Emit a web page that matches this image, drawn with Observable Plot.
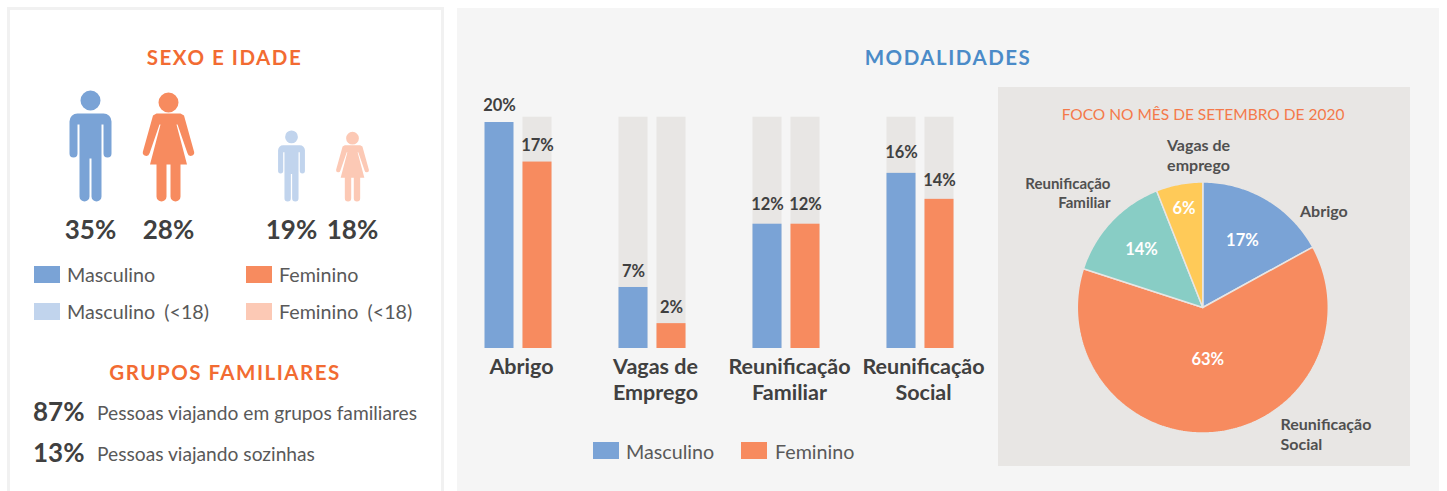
<!DOCTYPE html>
<html lang="pt">
<head>
<meta charset="utf-8">
<title>Sexo e idade, modalidades</title>
<script src="https://cdn.jsdelivr.net/npm/d3@7"></script>
<script src="https://cdn.jsdelivr.net/npm/@observablehq/plot@0.6"></script>
<style>
  html, body { margin: 0; padding: 0; background: #fff; }
  #page { position: relative; width: 1447px; height: 491px; overflow: hidden; font-family: Lato, sans-serif; }
  .panel, .plot, .t, .sw { position: absolute; }
  .t { transform: translateY(-50%); white-space: nowrap; line-height: 1.2; }
  .c { transform: translate(-50%, -50%); }
  .h { font-size: 20.5px; font-weight: 700; letter-spacing: 1.5px; color: #f26b32; }
  .lg { font-size: 19.7px; color: #595959; }
  .pct { font-size: 26px; font-weight: 700; color: #404040; }
  .fam { font-size: 19.2px; color: #595959; }
  svg { overflow: visible; }
</style>
</head>
<body>
<div id="page"></div>
<script>
// ---- data ----
const pctAdultos = [35, 28];
const pctCriancas = [19, 18];
const legendaSexo = ["Masculino", "Feminino", "Masculino (<18)", "Feminino (<18)"];
const coresSexo = ["#7aa3d6", "#f78b5f", "#c1d4ed", "#fcc9b5"];

const grupos = ["Pessoas viajando em grupos familiares", "Pessoas viajando sozinhas"];
const pctGrupos = [87, 13];

const modalidades = ["Abrigo", "Vagas de\nEmprego", "Reunificação\nFamiliar", "Reunificação\nSocial"];
const sexos = ["Masculino", "Feminino"];
// bar heights as drawn, in the percent units of the chart
const alturaMasculino = [20, 5.4, 11, 15.5];
const alturaFeminino = [16.5, 2.2, 11, 13.2];
// printed labels
const rotuloMasculino = [20, 7, 12, 16];
const rotuloFeminino = [17, 2, 12, 14];
const fundoBarra = 20.47;

const focoCategorias = ["Abrigo", "Reunificação Social", "Reunificação Familiar", "Vagas de emprego"];
const focoValores = [17, 63, 14, 6];
const focoCores = ["#7aa3d6", "#f78b5f", "#88cdc5", "#ffca58"];

// ---- layout helpers ----
const page = document.getElementById("page");
function box(css) { const d = document.createElement("div"); d.className = "panel"; d.style.cssText = css; page.append(d); return d; }
function txt(s, x, y, cls, extra) {
  const d = document.createElement("div");
  d.className = "t " + cls; d.textContent = s;
  d.style.left = x + "px"; d.style.top = y + "px";
  if (extra) d.style.cssText += extra;
  page.append(d);
}
function swatch(x, y, color) {
  const d = document.createElement("div");
  d.className = "sw";
  d.style.cssText = `left:${x}px;top:${y}px;width:26px;height:17px;background:${color}`;
  page.append(d);
}
function place(chart, x, y) {
  const d = document.createElement("div");
  d.className = "plot";
  d.style.left = x + "px"; d.style.top = y + "px";
  d.append(chart); page.append(d);
}

box("left:7px;top:7px;width:431px;height:490px;border:3px solid #f1f1f1;background:#fff");
box("left:457px;top:8px;width:982px;height:483px;background:#f5f5f5");
box("left:998px;top:87px;width:412px;height:379px;background:#e8e6e4");

// ---- pictogram symbols (drawn by Plot.dot, unit = half the figure's height) ----
const H = 55.5;
function tracer(ctx, size, fn) {
  const k = Math.sqrt(size / Math.PI) / H;
  const X = v => v * k, Y = v => (v - 145.5) * k;
  fn({
    m: (x, y) => ctx.moveTo(X(x), Y(y)),
    l: (x, y) => ctx.lineTo(X(x), Y(y)),
    a: (x, y, r, a0, a1, ccw) => ctx.arc(X(x), Y(y), r * k, a0, a1, ccw),
    c: () => ctx.closePath()
  });
}
const homem = { draw(ctx, size) { tracer(ctx, size, p => {
  p.m(10, 100); p.a(0, 100, 10, 0, 2 * Math.PI); p.c();
  p.m(-13, 113); p.l(13, 113);
  p.a(13, 121, 8, -Math.PI / 2, 0);
  p.l(21, 153); p.a(17, 153, 4, 0, Math.PI);
  p.l(13, 124); p.l(11, 124); p.l(11, 196);
  p.a(6, 196, 5, 0, Math.PI);
  p.l(1, 158); p.l(-1, 158); p.l(-1, 196);
  p.a(-6, 196, 5, 0, Math.PI);
  p.l(-11, 124); p.l(-13, 124); p.l(-13, 153);
  p.a(-17, 153, 4, 0, Math.PI);
  p.l(-21, 121); p.a(-13, 121, 8, Math.PI, 1.5 * Math.PI); p.c();
}); } };
const mulher = { draw(ctx, size) { tracer(ctx, size, p => {
  p.m(10, 102); p.a(0, 102, 10, 0, 2 * Math.PI); p.c();
  p.m(-12, 113); p.l(12, 113); p.l(15.5, 115);
  p.l(25.5, 151); p.a(22.3, 152, 3.4, -0.2, 2.9);
  p.l(9, 124); p.l(8, 124); p.l(18.5, 164); p.l(12, 164); p.l(12, 196);
  p.a(7, 196, 5, 0, Math.PI);
  p.l(2, 164); p.l(-2, 164); p.l(-2, 196);
  p.a(-7, 196, 5, 0, Math.PI);
  p.l(-12, 164); p.l(-18.5, 164); p.l(-8, 124); p.l(-9, 124);
  p.l(-19, 153); p.a(-22.3, 152, 3.4, 0.25, 3.35);
  p.l(-15.5, 115); p.c();
}); } };

function figuras(valores, classes, r, dy, range, width) {
  const dados = sexos.map((s, i) => ({ sexo: s, classe: classes[i], pct: valores[i] }));
  return Plot.plot({
    width, height: 190, margin: 0, axis: null,
    style: { background: "transparent", overflow: "visible" },
    x: { type: "point", domain: sexos, range, padding: 0 },
    color: { domain: legendaSexo, range: coresSexo },
    marks: [
      Plot.dot(dados.filter(d => d.sexo === "Masculino"), { x: "sexo", frameAnchor: "top", dy, r, symbol: homem, fill: "classe" }),
      Plot.dot(dados.filter(d => d.sexo === "Feminino"), { x: "sexo", frameAnchor: "top", dy, r, symbol: mulher, fill: "classe" }),
      Plot.text(dados, { x: "sexo", frameAnchor: "bottom", dy: -20, lineAnchor: "middle", text: d => d.pct + "%",
        fontSize: 26, fontWeight: 700, fontFamily: "Lato", fill: "#404040" })
    ]
  });
}
place(figuras(pctAdultos, legendaSexo.slice(0, 2), 55.5, 85.5, [60, 138], 190), 30, 60);
place(figuras(pctCriancas, legendaSexo.slice(2), 35.5, 105.5, [51, 112], 160), 240, 60);

// ---- left panel text ----
txt("SEXO E IDADE", 224.5, 57, "h c");
[[34, 266], [246, 266], [34, 303], [246, 303]].forEach(([x, y], i) => {
  swatch(x, y, coresSexo[i]);
  txt(legendaSexo[i], x + 33, y + 9, "lg", "word-spacing:4px;");
});
txt("GRUPOS FAMILIARES", 225, 372, "h c");
grupos.forEach((g, i) => {
  const y = [412, 453][i];
  txt(pctGrupos[i] + "%", 33, y, "pct");
  txt(g, 97, y + 1, "fam");
});

// ---- grouped bars ----
txt("MODALIDADES", 948, 57, "h c", "color:#4b8bc8;");
const barras = modalidades.flatMap((m, i) => [
  { modalidade: m, sexo: "Masculino", altura: alturaMasculino[i], rotulo: rotuloMasculino[i] },
  { modalidade: m, sexo: "Feminino", altura: alturaFeminino[i], rotulo: rotuloFeminino[i] }
]);
const folgaPx = [17, 16, 16, 16, 19, 19, 21, 19]; // label lift above bar, px
const unidadePx = 11.3;
barras.forEach((b, i) => { b.folga = folgaPx[i]; });

place(Plot.plot({
  width: 530, height: 330,
  marginLeft: 13.5, marginRight: 45.4, marginTop: 26.7, marginBottom: 72,
  style: { background: "transparent", overflow: "visible" },
  fx: { domain: modalidades, paddingInner: 0.494, paddingOuter: 0, label: null },
  x: { domain: sexos, paddingInner: 0.25, paddingOuter: 0, axis: null },
  y: { domain: [0, fundoBarra], axis: null },
  color: { domain: sexos, range: coresSexo.slice(0, 2) },
  marks: [
    Plot.barY(barras.filter(b => !(b.modalidade === "Abrigo" && b.sexo === "Masculino")),
      { fx: "modalidade", x: "sexo", y: () => fundoBarra, fill: "#e8e6e4" }),
    Plot.barY(barras, { fx: "modalidade", x: "sexo", y: "altura", fill: "sexo" }),
    Plot.text(barras, { fx: "modalidade", x: "sexo", y: b => b.altura + b.folga / unidadePx, text: b => b.rotulo + "%",
      lineAnchor: "middle", fontSize: 16.5, fontWeight: 700, fontFamily: "Lato", fill: "#404040" }),
    Plot.axisFx({ anchor: "bottom", tickSize: 0, tickPadding: 7, dx: 3, label: null, fontSize: 21.5, fontWeight: 700,
      fontFamily: "Lato", fill: "#404040", lineHeight: 1.2, tickFormat: d => d })
  ]
}), 470, 90);

// legend below bars
swatch(593, 442, coresSexo[0]); txt("Masculino", 626, 452, "lg");
swatch(741, 442, coresSexo[1]); txt("Feminino", 775, 452, "lg");

// ---- pie ----
txt("FOCO NO MÊS DE SETEMBRO DE 2020", 1203, 114, "t c", "font-size:15.5px;color:#f4794a;");
const fatias = d3.pie().sort(null).value(d => d.valor)(focoCategorias.map((c, i) => ({ categoria: c, valor: focoValores[i] })));
const vertices = fatias.flatMap(f => {
  const n = Math.ceil((f.endAngle - f.startAngle) * 180 / Math.PI);
  const pts = d3.range(n + 1).map(i => f.startAngle + (f.endAngle - f.startAngle) * i / n);
  return [{ c: f.data.categoria, x: 0, y: 0 },
    ...pts.map(a => ({ c: f.data.categoria, x: Math.sin(a), y: Math.cos(a) })),
    { c: f.data.categoria, x: 0, y: 0 }];
});
const raioRotulo = [0.62, 0.42, 0.67, 0.8];
const rotulosFatia = fatias.map((f, i) => {
  const m = (f.startAngle + f.endAngle) / 2;
  return { x: raioRotulo[i] * Math.sin(m), y: raioRotulo[i] * Math.cos(m), t: f.data.valor + "%" };
});
const nomes = [
  { t: "Abrigo", dx: 301.5, dy: 123, anchor: "start", size: 16 },
  { t: "Reunificação\nSocial", dx: 282, dy: 346, anchor: "start", size: 16 },
  { t: "Reunificação\nFamiliar", dx: 112, dy: 105, anchor: "end", size: 15 },
  { t: "Vagas de\nemprego", dx: 200, dy: 67, anchor: "middle", size: 16 }
];
const R = 125.5, cx = 204.3, cy = 220;
place(Plot.plot({
  width: 412, height: 379, margin: 0,
  style: { background: "transparent", overflow: "visible" },
  x: { domain: [-1, 1], range: [cx - R, cx + R], axis: null },
  y: { domain: [-1, 1], range: [cy + R, cy - R], axis: null },
  color: { domain: focoCategorias, range: focoCores },
  marks: [
    Plot.line(vertices, { x: "x", y: "y", z: "c", fill: "c", stroke: "#e8e6e4", strokeWidth: 1.5, strokeLinejoin: "miter" }),
    Plot.text(rotulosFatia, { x: "x", y: "y", text: "t", fill: "white", fontSize: 16.5, fontWeight: 700, fontFamily: "Lato" }),
    ...nomes.map(n => Plot.text([n], { frameAnchor: "top-left", dx: n.dx, dy: n.dy, text: "t", textAnchor: n.anchor,
      lineAnchor: "middle", lineHeight: 1.25, fontSize: n.size, fontWeight: 700, fontFamily: "Lato", fill: "#505050" }))
  ]
}), 998, 87);
</script>
</body>
</html>
